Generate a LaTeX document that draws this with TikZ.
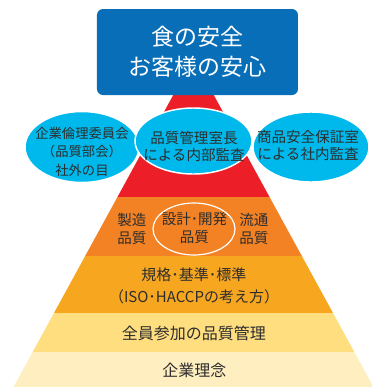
\documentclass[tikz,border=0pt]{standalone}
\usepackage{fontspec}
\setmainfont{Noto Sans CJK JP}
\usetikzlibrary{shapes.geometric}
\definecolor{boxblue}{RGB}{8,110,184}
\definecolor{cyanE}{RGB}{0,185,236}
\definecolor{redL}{RGB}{236,30,40}
\definecolor{orgD}{RGB}{242,130,36}
\definecolor{org}{RGB}{247,166,32}
\definecolor{yel}{RGB}{255,222,128}
\definecolor{cream}{RGB}{255,239,192}
\definecolor{ink}{RGB}{45,45,45}
\begin{document}
\begin{tikzpicture}[x=0.75pt,y=-0.75pt,
  txt/.style={text=ink,align=center,inner sep=0pt},
  ell/.style={ellipse,fill=cyanE,draw=white,line width=1.1pt,inner sep=0pt},
  ftop/.style={font=\fontsize{17.25}{22.5}\selectfont},
  fell/.style={font=\fontsize{10.9}{12.75}\selectfont},
  fellL/.style={font=\fontsize{10}{13.9}\selectfont},
  flay/.style={font=\fontsize{10.9}{13.5}\selectfont},
  flayB/.style={font=\fontsize{11.25}{16.5}\selectfont},
  flayC/.style={font=\fontsize{12}{14}\selectfont}]
\useasboundingbox (0,0) rectangle (372,387);
% pyramid layers
\begin{scope}
\clip (193.5,58) -- (373.5,387) -- (13.5,387) -- cycle;
\fill[redL] (0,0) rectangle (372,197);
\fill[orgD] (0,197) rectangle (372,256);
\fill[org] (0,256) rectangle (372,313);
\fill[yel] (0,313) rectangle (372,352);
\fill[cream] (0,352) rectangle (372,387);
\end{scope}
% top box
\node[fill=boxblue,rounded corners=4.5pt,minimum width=150.75pt,minimum height=64.5pt,
  text=white,align=center,ftop,inner sep=0pt] (top) at (197.5,52) {食の安全\\お客様の安心};
% ellipses
\node[ell,minimum width=85.5pt,minimum height=53.25pt] (eL) at (82,147) {};
\node[ell,minimum width=87pt,minimum height=52.5pt] (eR) at (311,147) {};
\node[ell,minimum width=87.75pt,minimum height=49.5pt] (eM) at (193.5,141) {};
\node[txt,fellL] (tL) at (82,151.5) {企業倫理委員会\\（品質部会）\\社外の目};
\node[txt,fell] (tM) at (194,146.4) {品質管理室長\\による内部監査};
\node[txt,fell] (tR) at (308,145.5) {商品安全保証室\\による社内監査};
% layer 4
\node[ellipse,draw=white,line width=0.9pt,minimum width=61.5pt,minimum height=39pt,inner sep=0pt] (eD) at (194,229) {};
\node[txt,flay] (mfg) at (132,228.5) {製造\\品質};
\node[txt,flay] (dev) at (194.5,228.5) {設計･開発\\品質};
\node[txt,flay] (dist) at (254,228.5) {流通\\品質};
% layer 3
\node[txt,flayB] (std) at (194,286) {規格･基準･標準\\（ISO･HACCPの考え方）};
% layer 2
\node[txt,flayC] (all) at (194,333) {全員参加の品質管理};
% layer 1
\node[txt,flayC] (phil) at (194.5,370) {企業理念};
\end{tikzpicture}
\end{document}
